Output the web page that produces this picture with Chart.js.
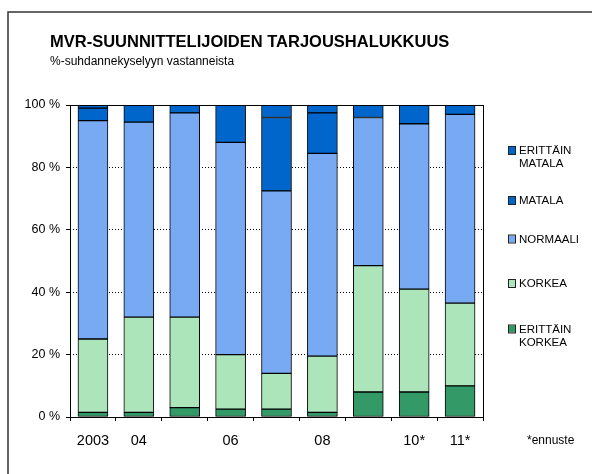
<!DOCTYPE html>
<html lang="fi">
<head>
<meta charset="UTF-8">
<title>MVR-suunnittelijoiden tarjoushalukkuus</title>
<script src="https://cdn.jsdelivr.net/npm/chart.js"></script>
<style>
    html, body { margin: 0; padding: 0; background: #fff; }
    #wrap { width: 592px; height: 474px; }
</style>
</head>
<body>
<div id="wrap"><canvas id="chart" width="592" height="474"></canvas></div>
<script>
    // Data (percent of respondents)
    const years = ["2003", "04", "", "06", "", "08", "", "10*", "11*"];
    const erittainKorkea = [1.5, 1.5, 3, 2.5, 2.5, 1.5, 8, 8, 10];
    const korkea = [23.5, 30.5, 29, 17.5, 11.5, 18, 40.5, 33, 26.5];
    const normaali = [70, 62.5, 65.5, 68, 58.5, 65, 47.5, 53, 60.5];
    const matala = [4, 5.5, 2.5, 12, 23.5, 13, 4, 6, 3];
    const erittainMatala = [1, 0, 0, 0, 4, 2.5, 0, 0, 0];
    const yTicks = [0, 20, 40, 60, 80, 100];

    const FONT = "'Liberation Sans', Arial, sans-serif";

    function series(label, data, color) {
        return {
            label: label,
            data: data,
            backgroundColor: color,
            borderColor: "#000",
            borderWidth: 1,
            borderSkipped: false,
            barThickness: 30
        };
    }

    // frame, titles, plot border and legend
    const decor = {
        id: "decor",
        beforeDraw(chart) {
            const ctx = chart.ctx;
            ctx.save();
            ctx.strokeStyle = "#333";
            ctx.lineWidth = 1.5;
            ctx.beginPath();
            ctx.moveTo(8, 474);
            ctx.lineTo(8, 12);
            ctx.lineTo(592, 12);
            ctx.stroke();

            ctx.fillStyle = "#000";
            ctx.textBaseline = "alphabetic";
            ctx.font = "bold 16.5px " + FONT;
            ctx.fillText("MVR-SUUNNITTELIJOIDEN TARJOUSHALUKKUUS", 50, 47);
            ctx.font = "12px " + FONT;
            ctx.fillText("%-suhdannekyselyyn vastanneista", 50, 65);
            ctx.restore();
        },
        afterDraw(chart) {
            const ctx = chart.ctx;
            const a = chart.chartArea;
            ctx.save();
            ctx.strokeStyle = "#000";
            ctx.lineWidth = 1;
            ctx.strokeRect(Math.round(a.left) + 0.5, Math.round(a.top) + 0.5,
                Math.round(a.right - a.left), Math.round(a.bottom - a.top));

            // legend, top entry = top of stack
            const ys = [151, 201, 239.5, 284, 329.5];
            const ds = chart.data.datasets.slice().reverse();
            ctx.font = "11.5px " + FONT;
            ctx.textBaseline = "middle";
            ds.forEach((d, i) => {
                const y = ys[i];
                ctx.fillStyle = d.backgroundColor;
                ctx.fillRect(508.5, y - 4, 7, 7);
                ctx.strokeStyle = "#222";
                ctx.strokeRect(508.5, y - 4.5, 7, 8);
                ctx.fillStyle = "#000";
                d.label.split(" ").forEach((w, j) => {
                    ctx.fillText(w, 519, y + j * 13);
                });
            });

            ctx.font = "12px " + FONT;
            ctx.fillText("*ennuste", 527, 441);
            ctx.restore();
        }
    };

    new Chart(document.getElementById("chart"), {
        type: "bar",
        data: {
            labels: years,
            datasets: [
                series("ERITTÄIN KORKEA", erittainKorkea, "#339966"),
                series("KORKEA", korkea, "#abe5b9"),
                series("NORMAALI", normaali, "#78a9f3"),
                series("MATALA", matala, "#0066cc"),
                series("ERITTÄIN MATALA", erittainMatala, "#0066cc")
            ]
        },
        options: {
            responsive: false,
            animation: false,
            layout: { padding: { left: 0, top: 105, right: 109, bottom: 0 } },
            plugins: {
                legend: { display: false },
                title: { display: false },
                tooltip: { enabled: false }
            },
            scales: {
                x: {
                    stacked: true,
                    afterFit(s) { s.height = 57; },
                    grid: {
                        offset: true,
                        drawOnChartArea: false,
                        tickLength: 4,
                        tickColor: "#000",
                        tickWidth: 1
                    },
                    border: { display: false },
                    ticks: {
                        color: "#000",
                        padding: 11,
                        maxRotation: 0,
                        autoSkip: false,
                        font: { family: FONT, size: 14.5 }
                    }
                },
                y: {
                    stacked: true,
                    min: 0,
                    max: 100,
                    afterFit(s) { s.width = 70; },
                    afterBuildTicks(s) { s.ticks = yTicks.map(v => ({ value: v })); },
                    grid: {
                        color: "#000",
                        lineWidth: 1,
                        tickLength: 4,
                        tickColor: "#000",
                        tickBorderDash: []
                    },
                    border: { display: false, dash: [1, 2] },
                    ticks: {
                        color: "#000",
                        padding: 6,
                        font: { family: FONT, size: 12.5 },
                        callback: v => v + " %"
                    }
                }
            }
        },
        plugins: [decor]
    });
</script>
</body>
</html>
